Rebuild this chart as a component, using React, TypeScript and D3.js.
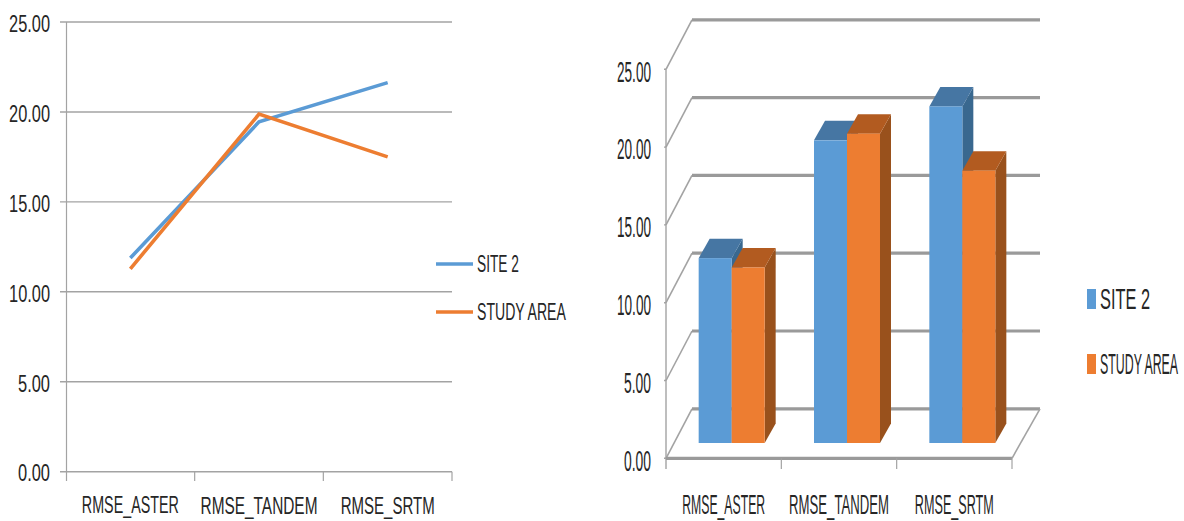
import React from "react";
import * as d3 from "d3";

const categories = ["RMSE_ASTER", "RMSE_TANDEM", "RMSE_SRTM"];
const seriesNames = ["SITE 2", "STUDY AREA"];
const site2 = [11.88, 19.45, 21.63];
const studyArea = [11.28, 19.88, 17.5];
const yTicks = [0, 5, 10, 15, 20, 25];

const BLUE = "#5B9BD5";
const ORANGE = "#ED7D31";
const GRID = "#a3a3a3";
const INK = "#262626";
const FONT = "'Liberation Sans Narrow', 'Liberation Sans', sans-serif";

const seriesValues = [site2, studyArea];
const fills = [
  { front: BLUE, top: "#4676A3", side: "#39688F" },
  { front: ORANGE, top: "#B25B20", side: "#99511C" },
];

const measureCtx = document.createElement("canvas").getContext("2d")!;

// Tall, squeezed label: the glyphs are scaled horizontally so the run spans exactly w pixels.
function Label(props: { x: number; y: number; w: number; size: number; children: string; anchor?: string }) {
  const { x, y, w, size, children, anchor = "middle" } = props;
  measureCtx.font = `${size}px ${FONT}`;
  const sx = w / measureCtx.measureText(children).width;
  return (
    <text
      transform={`translate(${x},${y}) scale(${sx},1)`}
      fontFamily={FONT}
      fontSize={size}
      fill={INK}
      textAnchor={anchor}
      dominantBaseline="central"
    >
      {children}
    </text>
  );
}

function LineChart() {
  const x = d3.scaleBand<string>().domain(categories).range([66, 452]);
  const y = d3.scaleLinear().domain([0, 25]).range([471.7, 22]);
  const cx = (c: string) => x(c)! + x.bandwidth() / 2;
  const line = d3
    .line<number>()
    .x((_, i) => cx(categories[i]))
    .y((v) => y(v));
  const xEdges = [...categories.map((c) => x(c)!), 452];
  const labelW = [97, 117, 94];
  const tickW = [32, 32, 41, 41, 41, 41];
  const legendY = [264, 312];
  const legendW = [42, 90];

  return (
    <g>
      {yTicks.map((t) => (
        <line key={t} x1={60} x2={452} y1={y(t)} y2={y(t)} stroke={GRID} strokeWidth={1.4} />
      ))}
      <line x1={66.5} x2={66.5} y1={22} y2={481} stroke={GRID} strokeWidth={1.2} />
      {xEdges.slice(1).map((e) => (
        <line key={e} x1={e} x2={e} y1={471.7} y2={481} stroke={GRID} strokeWidth={1.2} />
      ))}
      {yTicks.map((t, i) => (
        <Label key={t} x={50} y={y(t) + 1} w={tickW[i]} size={24} anchor="end">
          {t.toFixed(2)}
        </Label>
      ))}
      {categories.map((c, i) => (
        <Label key={c} x={cx(c)} y={505.5} w={labelW[i]} size={23}>
          {c}
        </Label>
      ))}
      {seriesValues.map((vals, i) => (
        <path
          key={i}
          d={line(vals)!}
          fill="none"
          stroke={fills[i].front}
          strokeWidth={3.6}
          strokeLinejoin="miter"
        />
      ))}
      {seriesNames.map((n, i) => (
        <g key={n}>
          <line x1={436} x2={473} y1={legendY[i]} y2={legendY[i]} stroke={fills[i].front} strokeWidth={3.6} />
          <Label x={477} y={legendY[i] - 1} w={legendW[i]} size={24} anchor="start">
            {n}
          </Label>
        </g>
      ))}
    </g>
  );
}

function BarChart() {
  const x0 = d3.scaleBand<string>().domain(categories).range([666, 1012]);
  const groupWidth = 66;
  const pad = (x0.bandwidth() - groupWidth) / 2;
  const x1 = d3.scaleBand<number>().domain([0, 1]).range([0, groupWidth]);
  const y = d3.scaleLinear().domain([0, 25]).range([458.3, 69.3]);

  // Oblique projection of the wall and floor, and the shorter depth of each column.
  const wallDx = 26;
  const wallDy = 49.5;
  const barDx = 11;
  const barDy = 19.5;
  const liftX = 8;
  const liftY = 15.3;

  const xEdges = [...categories.map((c) => x0(c)!), 1012];
  const labelW = [83, 100, 79];
  const tickW = [27, 27, 34, 34, 34, 34];
  const swatchY = [289, 354];
  const legendW = [50, 79];

  return (
    <g>
      {yTicks.map((t) => (
        <g key={t}>
          <line x1={664} x2={666} y1={y(t)} y2={y(t)} stroke={GRID} strokeWidth={1.4} />
          <line x1={666} x2={666 + wallDx} y1={y(t)} y2={y(t) - wallDy} stroke={GRID} strokeWidth={1.6} />
          <line x1={666 + wallDx} x2={1040} y1={y(t) - wallDy} y2={y(t) - wallDy} stroke="#9a9a9a" strokeWidth={3.2} />
        </g>
      ))}
      <line x1={666} x2={666} y1={y(25)} y2={469} stroke={GRID} strokeWidth={1.4} />
      <line x1={666} x2={1012} y1={y(0)} y2={y(0)} stroke="#9a9a9a" strokeWidth={3.2} />
      <line x1={1012} x2={1040} y1={y(0)} y2={y(0) - wallDy} stroke={GRID} strokeWidth={1.6} />
      {xEdges.slice(1).map((e) => (
        <line key={e} x1={e} x2={e} y1={y(0)} y2={469} stroke={GRID} strokeWidth={1.2} />
      ))}

      {categories.map((c, ci) =>
        seriesValues.map((vals, si) => {
          const left = x0(c)! + pad + liftX + x1(si)!;
          const right = left + x1.bandwidth();
          const base = y(0) - liftY;
          const top = base - (y(0) - y(vals[ci]));
          return (
            <g key={`${c}-${si}`}>
              <path
                d={`M${right},${top}L${right + barDx},${top - barDy}V${base - barDy}L${right},${base}Z`}
                fill={fills[si].side}
              />
              <path
                d={`M${left},${top}L${left + barDx},${top - barDy}H${right + barDx}L${right},${top}Z`}
                fill={fills[si].top}
              />
              <rect x={left} y={top} width={x1.bandwidth()} height={base - top} fill={fills[si].front} />
            </g>
          );
        })
      )}

      {yTicks.map((t, i) => (
        <Label key={t} x={651} y={y(t) + 2} w={tickW[i]} size={30} anchor="end">
          {t.toFixed(2)}
        </Label>
      ))}
      {categories.map((c, i) => (
        <Label key={c} x={x0(c)! + x0.bandwidth() / 2} y={504.5} w={labelW[i]} size={28}>
          {c}
        </Label>
      ))}
      {seriesNames.map((n, i) => (
        <g key={n}>
          <rect x={1087} y={swatchY[i]} width={9} height={20} fill={fills[i].front} />
          <Label x={1100} y={swatchY[i] + 10} w={legendW[i]} size={29} anchor="start">
            {n}
          </Label>
        </g>
      ))}
    </g>
  );
}

export default function App() {
  return (
    <svg
      width={1184}
      height={521}
      viewBox="0 0 1184 521"
      style={{ position: "absolute", left: 0, top: 0, background: "#fff" }}
    >
      <LineChart />
      <BarChart />
    </svg>
  );
}
